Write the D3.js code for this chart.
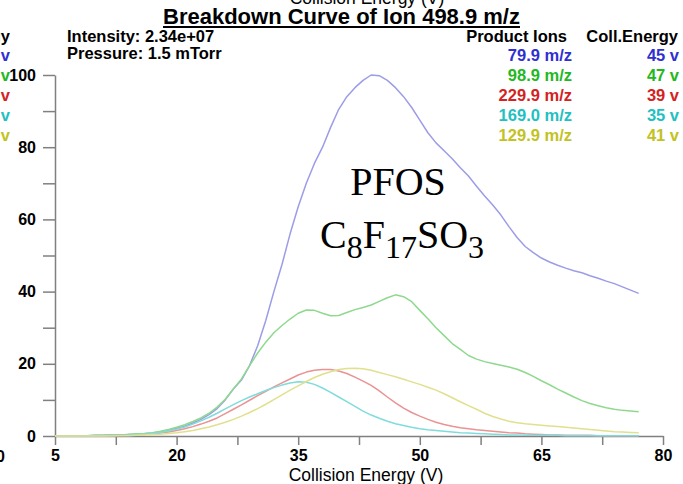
<!DOCTYPE html>
<html><head><meta charset="utf-8">
<script src="https://cdn.jsdelivr.net/npm/d3@7"></script>
<style>html,body{margin:0;padding:0;background:#fff;overflow:hidden}svg{display:block}</style>
</head><body><svg id="c" width="683" height="484"></svg>
<script>
// ---- data ----
const energies = d3.range(5, 78, 1); // 5..77 V
const ion799 = [0,0,0,0.1,0.1,0.2,0.2,0.3,0.3,0.4,0.5,0.6,0.8,1.1,1.5,2.1,2.7,3.6,4.6,5.9,7.6,10,13,15.5,19.5,25,32,40,47.5,56,63.5,70,75.5,80,85.5,90.5,94,96.5,98.5,100,99.8,98.5,96.5,94,91,87.5,84,81.2,79,76.8,74.3,72,69.2,66.5,64,61.2,58,55,52.5,50.8,49.3,48.2,47.3,46.5,45.8,45.2,44.4,43.7,42.9,42.2,41.3,40.4,39.5];
const ion989 = [0,0,0,0.1,0.1,0.2,0.2,0.3,0.3,0.4,0.6,0.7,0.9,1.3,1.8,2.4,3.1,4.0,5.0,6.3,8.0,10.2,13,15.8,19.5,23,26,28.6,30.6,32.4,34,34.9,34.8,34.0,33.3,33.4,34.2,35,35.6,36.3,37.3,38.3,39.1,38.6,37.2,34.8,32.5,30,27.8,25.6,24,22.3,21.3,20.6,20.1,19.6,19.1,18.5,17.6,16.5,15.3,14.2,13.0,11.9,10.8,9.8,9.0,8.4,7.8,7.4,7.1,6.9,6.7];
const ion2299 = [0,0,0,0,0.1,0.1,0.1,0.2,0.2,0.2,0.3,0.4,0.6,0.8,1.1,1.5,2.0,2.6,3.3,4.1,5.0,6.2,7.4,8.6,9.9,11.2,12.4,13.6,14.7,15.8,16.9,17.7,18.2,18.4,18.4,18.0,17.3,16.3,15.2,14.0,12.5,10.8,9.2,7.7,6.5,5.5,4.6,3.8,3.2,2.7,2.3,2.0,1.7,1.5,1.3,1.1,0.9,0.8,0.6,0.5,0.4,0.3,0.3,0.2,0.2,0.2,0.2,0.1,0.1,0.1,0.1,0.1,0.1];
const ion1690 = [0,0,0,0,0.1,0.1,0.1,0.2,0.2,0.3,0.4,0.5,0.7,1.0,1.4,1.9,2.5,3.3,4.2,5.2,6.3,7.5,8.7,9.8,10.8,11.7,12.6,13.4,14.1,14.7,15.0,14.9,14.3,13.3,12.1,10.8,9.5,8.2,6.9,5.8,4.9,4.1,3.4,2.9,2.4,2.0,1.7,1.5,1.3,1.1,0.9,0.8,0.7,0.6,0.5,0.4,0.3,0.3,0.2,0.2,0.2,0.2,0.2,0.1,0.1,0.1,0.1,0.1,0.1,0.1,0.1,0.1,0.1];
const ion1299 = [0,0,0,0,0,0,0,0,0.1,0.1,0.2,0.3,0.4,0.5,0.7,0.9,1.2,1.5,2.0,2.5,3.1,3.8,4.6,5.5,6.5,7.6,8.8,10.1,11.4,12.7,13.9,15.1,16.2,17.1,17.8,18.4,18.7,18.8,18.6,18.2,17.6,17.0,16.4,15.7,15.0,14.3,13.5,12.7,11.7,10.6,9.5,8.4,7.4,6.3,5.4,4.7,4.1,3.7,3.4,3.2,3.0,2.8,2.6,2.4,2.2,2.0,1.8,1.6,1.4,1.2,1.1,1.0,0.9];
const productIons = ["79.9 m/z","98.9 m/z","229.9 m/z","169.0 m/z","129.9 m/z"];
const collEnergies = ["45 v","47 v","39 v","35 v","41 v"];
const xTicks = [5,12.5,20,27.5,35,42.5,50,57.5,65,72.5,80];
const xLabels = [5,20,35,50,65,80];
const yTicks = [0,10,20,30,40,50,60,70,80,90,100];
const yLabels = [0,20,40,60,80,100];

const series = [ion799, ion989, ion2299, ion1690, ion1299];
const lineColors = ["#9c9ce8","#8ed98e","#e99393","#80dcdc","#e0e08e"];
const textColors = ["#2f2fd2","#22b822","#d42222","#22c0c0","#c2c222"];

const svg = d3.select("#c");
const x = d3.scaleLinear().domain([5,80]).range([55,663]);
const y = d3.scaleLinear().domain([0,100]).range([436,75]);
const axisColor = "#808080";

// axes
const gx = svg.append("g").attr("transform","translate(0,436)")
  .call(d3.axisBottom(x).tickValues(xTicks).tickSize(9).tickSizeOuter(0).tickPadding(5)
    .tickFormat(d => xLabels.includes(d) ? d : ""));
const gy = svg.append("g").attr("transform","translate(55,0)")
  .call(d3.axisLeft(y).tickValues(yTicks).tickSize(12).tickSizeOuter(0).tickPadding(7)
    .tickFormat(d => yLabels.includes(d) ? d : ""));
[gx,gy].forEach(g=>{
  g.selectAll("path,line").attr("stroke",axisColor).attr("stroke-width",1.5);
  g.selectAll("text").attr("fill","#000").style("font-family","Liberation Sans, Arial, sans-serif")
   .style("font-weight","bold").style("font-size","16px");
});

// lines
const line = d3.line().x((d,i)=>x(energies[i])).y(d=>y(d));
series.forEach((s,i)=>{
  svg.append("path").datum(s).attr("d",line).attr("fill","none")
    .attr("stroke",lineColors[i]).attr("stroke-width",1.5).attr("stroke-linejoin","round");
});

const sans = "Liberation Sans, Arial, sans-serif";
// x label
svg.append("text").attr("x",366).attr("y",481).attr("text-anchor","middle")
  .style("font-family",sans).style("font-size","17.5px").text("Collision Energy (V)");
// clipped label of the panel above
svg.append("text").attr("x",367).attr("y",4).attr("text-anchor","middle")
  .style("font-family",sans).style("font-size","17.5px").text("Collision Energy (V)");

// title
const title = svg.append("text").attr("x",341.5).attr("y",24).attr("text-anchor","middle")
  .style("font-family",sans).style("font-weight","bold").style("font-size","22px")
  .text("Breakdown Curve of Ion 498.9 m/z");
const tb = title.node().getBBox();
svg.append("line").attr("x1",tb.x).attr("x2",tb.x+tb.width).attr("y1",27).attr("y2",27)
  .attr("stroke","#000").attr("stroke-width",2);

// info
const info = svg.append("g").style("font-family",sans).style("font-weight","bold").style("font-size","16.5px");
info.append("text").attr("x",67).attr("y",42).text("Intensity: 2.34e+07");
info.append("text").attr("x",67).attr("y",59).text("Pressure: 1.5 mTorr");

// legend
info.append("text").attr("x",567).attr("y",42).attr("text-anchor","end").text("Product Ions");
info.append("text").attr("x",678).attr("y",42).attr("text-anchor","end").text("Coll.Energy");
productIons.forEach((t,i)=>{
  const yy = 61 + i*20;
  info.append("text").attr("x",572).attr("y",yy).attr("text-anchor","end").attr("fill",textColors[i]).text(t);
  info.append("text").attr("x",679).attr("y",yy).attr("text-anchor","end").attr("fill",textColors[i]).text(collEnergies[i]);
  // clipped legend of the neighbouring panel
  info.append("text").attr("x",10).attr("y",yy).attr("text-anchor","end").attr("fill",textColors[i]).text("v");
});
info.append("text").attr("x",10).attr("y",42).attr("text-anchor","end").text("Coll.Energy");
info.append("text").attr("x",5).attr("y",462).attr("text-anchor","end").style("font-size","16px").text("80");

// annotation
const serif = "Liberation Serif, Times New Roman, serif";
svg.append("text").attr("x",398).attr("y",195).attr("text-anchor","middle")
  .style("font-family",serif).style("font-size","40px").text("PFOS");
const f = svg.append("text").attr("x",402).attr("y",248).attr("text-anchor","middle")
  .style("font-family",serif).style("font-size","40px");
[["C",0],["8",1],["F",0],["17",1],["SO",0],["3",1]].forEach(([t,sub])=>{
  const ts = f.append("tspan").text(t);
  if(sub) ts.style("font-size","32px").attr("dy",10);
  else ts.attr("dy", f.selectAll("tspan").size()>1 ? -10 : 0);
});
</script></body></html>
